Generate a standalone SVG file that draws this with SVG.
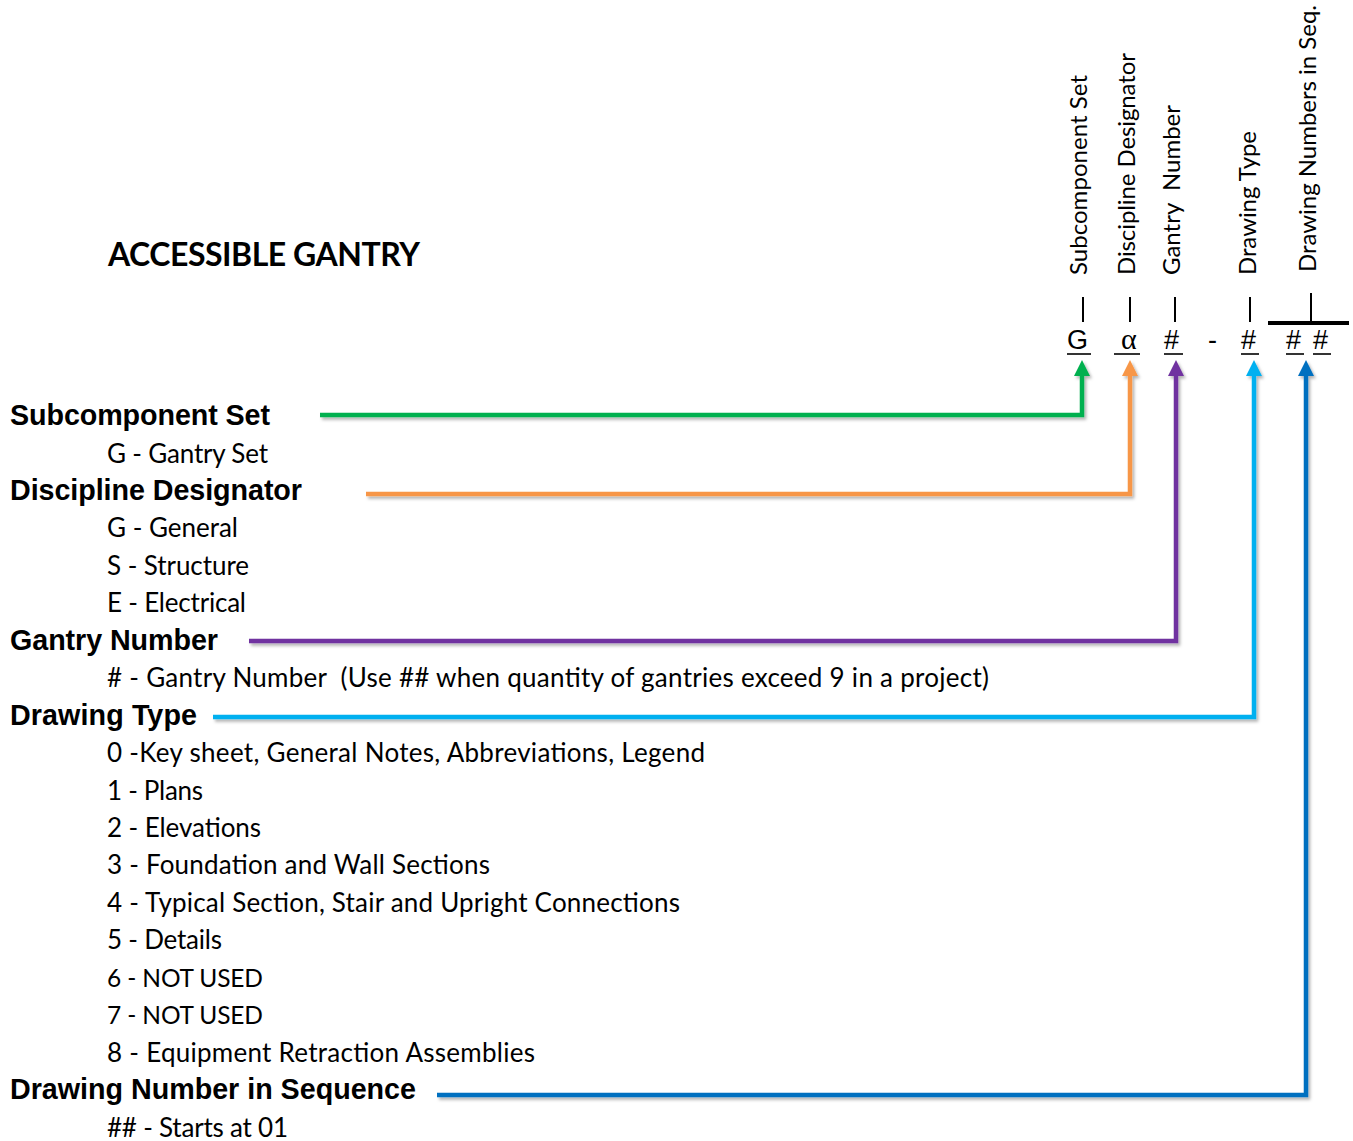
<svg xmlns="http://www.w3.org/2000/svg" width="1353" height="1141" viewBox="0 0 1353 1141">
<style>
.h{font-family:"Liberation Sans",Arial,sans-serif;font-weight:bold;font-size:28.7px;fill:#000}
.b{font-family:Lato,"Open Sans",sans-serif;font-size:26px;fill:#000}
.n{font-size:24.5px}
.r{font-family:Lato,"Open Sans",sans-serif;font-size:24px;fill:#000}
.t{font-family:Lato,"Open Sans",sans-serif;font-weight:bold;font-size:32px;fill:#000}
.c{font-family:"Liberation Sans",Arial,sans-serif;font-size:27px;fill:#000}
.a{font-family:"Liberation Serif","Times New Roman",serif;font-size:30px;fill:#000}
.k{stroke:#000;stroke-width:2;fill:none}
.u{stroke:#000;stroke-width:1.6;fill:none}
.ln{fill:none;stroke-width:4.5;stroke-linejoin:miter}
</style>
<defs>
<filter id="sh" x="-5%" y="-5%" width="110%" height="110%">
<feDropShadow dx="2" dy="2.5" stdDeviation="1.5" flood-color="#000" flood-opacity="0.3"/>
</filter>
<marker id="mg" viewBox="0 0 16 16" refX="0" refY="8" markerWidth="16" markerHeight="16" markerUnits="userSpaceOnUse" orient="auto"><path d="M0,0 L16,8 L0,16 z" fill="#00B050"/></marker>
<marker id="mo" viewBox="0 0 16 16" refX="0" refY="8" markerWidth="16" markerHeight="16" markerUnits="userSpaceOnUse" orient="auto"><path d="M0,0 L16,8 L0,16 z" fill="#F79646"/></marker>
<marker id="mp" viewBox="0 0 16 16" refX="0" refY="8" markerWidth="16" markerHeight="16" markerUnits="userSpaceOnUse" orient="auto"><path d="M0,0 L16,8 L0,16 z" fill="#7030A0"/></marker>
<marker id="ml" viewBox="0 0 16 16" refX="0" refY="8" markerWidth="16" markerHeight="16" markerUnits="userSpaceOnUse" orient="auto"><path d="M0,0 L16,8 L0,16 z" fill="#00B0F0"/></marker>
<marker id="mb" viewBox="0 0 16 16" refX="0" refY="8" markerWidth="16" markerHeight="16" markerUnits="userSpaceOnUse" orient="auto"><path d="M0,0 L16,8 L0,16 z" fill="#0070C0"/></marker>
</defs>
<rect width="1353" height="1141" fill="#fff"/>

<g id="title"><text class="t" x="108" y="266" textLength="312">ACCESSIBLE GANTRY</text></g>

<g id="code">
<g id="code-labels">
<text class="r" transform="translate(1087,275) rotate(-90)" textLength="200">Subcomponent Set</text>
<text class="r" transform="translate(1135,275) rotate(-90)" textLength="222">Discipline Designator</text>
<text class="r" transform="translate(1180,275) rotate(-90)" xml:space="preserve" textLength="170">Gantry  Number</text>
<text class="r" transform="translate(1256,275) rotate(-90)" textLength="144">Drawing Type</text>
<text class="r" transform="translate(1316,272) rotate(-90)" textLength="267">Drawing Numbers in Seq.</text>
</g>
<g id="code-ticks">
<line class="k" x1="1083" y1="297" x2="1083" y2="322"/>
<line class="k" x1="1130" y1="297" x2="1130" y2="322"/>
<line class="k" x1="1175" y1="297" x2="1175" y2="322"/>
<line class="k" x1="1250" y1="297" x2="1250" y2="322"/>
<line class="k" x1="1311" y1="293" x2="1311" y2="322"/>
<line x1="1268" y1="323" x2="1349" y2="323" stroke="#000" stroke-width="4"/>
</g>
<g id="code-chars">
<text class="c" x="1067" y="349">G</text>
<line class="u" x1="1067" y1="354" x2="1091" y2="354"/>
<text class="a" x="1121" y="349">α</text>
<line class="u" x1="1114" y1="354" x2="1140" y2="354"/>
<text class="c" x="1164" y="349">#</text>
<line class="u" x1="1164" y1="354" x2="1183" y2="354"/>
<text class="c" x="1208" y="349">-</text>
<text class="c" x="1241" y="349">#</text>
<line class="u" x1="1241" y1="354" x2="1259" y2="354"/>
<text class="c" x="1286" y="349">#</text>
<line class="u" x1="1286" y1="354" x2="1304" y2="354"/>
<text class="c" x="1313" y="349">#</text>
<line class="u" x1="1313" y1="354" x2="1331" y2="354"/>
</g>
</g>

<g id="connectors" filter="url(#sh)">
<path class="ln" stroke="#00B050" d="M320,415 H1082 V376" marker-end="url(#mg)"/>
<path class="ln" stroke="#F79646" d="M366,494 H1130 V376" marker-end="url(#mo)"/>
<path class="ln" stroke="#7030A0" d="M249,641 H1176 V376" marker-end="url(#mp)"/>
<path class="ln" stroke="#00B0F0" d="M213,717 H1254 V376" marker-end="url(#ml)"/>
<path class="ln" stroke="#0070C0" d="M437,1095 H1306 V376" marker-end="url(#mb)"/>
</g>

<g id="subcomponent-set">
<text class="h" x="10" y="425" textLength="260">Subcomponent Set</text>
<text class="b" x="107" y="463" textLength="161">G - Gantry Set</text>
</g>
<g id="discipline-designator">
<text class="h" x="10" y="500" textLength="292">Discipline Designator</text>
<text class="b" x="107" y="537" textLength="131">G - General</text>
<text class="b" x="107" y="575" textLength="142">S - Structure</text>
<text class="b" x="107" y="612" textLength="139">E - Electrical</text>
</g>
<g id="gantry-number">
<text class="h" x="10" y="650" textLength="208">Gantry Number</text>
<text class="b" x="107" y="687" xml:space="preserve" textLength="882"># - Gantry Number  (Use ## when quantity of gantries exceed 9 in a project)</text>
</g>
<g id="drawing-type">
<text class="h" x="10" y="725" textLength="187">Drawing Type</text>
<text class="b" x="107" y="762" textLength="598">0 -Key sheet, General Notes, Abbreviations, Legend</text>
<text class="b" x="107" y="800" textLength="96">1 - Plans</text>
<text class="b" x="107" y="837" textLength="154">2 - Elevations</text>
<text class="b" x="107" y="874" textLength="383">3 - Foundation and Wall Sections</text>
<text class="b" x="107" y="912" textLength="573">4 - Typical Section, Stair and Upright Connections</text>
<text class="b" x="107" y="949" textLength="115">5 - Details</text>
<text class="b n" x="107" y="987" textLength="156">6 - NOT USED</text>
<text class="b n" x="107" y="1024" textLength="156">7 - NOT USED</text>
<text class="b" x="107" y="1062" textLength="428">8 - Equipment Retraction Assemblies</text>
</g>
<g id="drawing-number-in-sequence">
<text class="h" x="10" y="1099" textLength="406">Drawing Number in Sequence</text>
<text class="b" x="107" y="1137" textLength="181">## - Starts at 01</text>
</g>
</svg>
